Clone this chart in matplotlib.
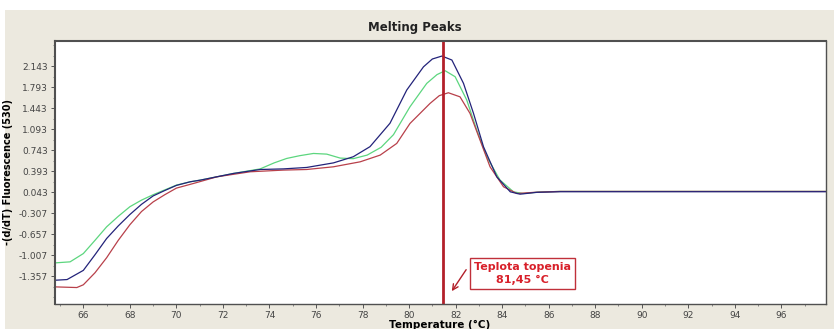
import numpy as np
import matplotlib
matplotlib.use("Agg")
import matplotlib.pyplot as plt
from matplotlib.patches import Rectangle
from matplotlib.ticker import AutoMinorLocator

# curves (temperature in C, -(d/dT) fluorescence)
temp_blue = [64.8, 65.3, 66.0, 66.5, 67.0, 67.5, 68.0, 68.5, 69.0, 69.5, 70.0, 70.59, 71.03, 72.45,
             73.6, 74.6, 75.6, 76.75, 77.6, 78.32, 79.18, 79.9, 80.62, 81.0, 81.41, 81.84, 82.34,
             82.77, 83.2, 83.77, 84.35, 84.77, 85.5, 86.5, 98.0]
blue = [-1.424, -1.413, -1.26, -1.0, -0.73, -0.52, -0.33, -0.16, -0.02, 0.07, 0.155, 0.215, 0.243, 0.354,
        0.42, 0.43, 0.454, 0.53, 0.632, 0.80, 1.19, 1.743, 2.13, 2.26, 2.309, 2.243, 1.854,
        1.354, 0.798, 0.298, 0.048, 0.009, 0.04, 0.05, 0.05]

temp_green = [64.8, 65.43, 66.0, 66.5, 67.0, 67.5, 68.0, 68.5, 69.0, 69.5, 70.0, 70.59, 71.03, 72.45,
              73.6, 74.2, 74.74, 75.3, 75.89, 76.46, 77.04, 77.6, 78.2, 78.8, 79.33, 80.04, 80.76,
              81.2, 81.55, 81.98, 82.48, 82.91, 83.34, 83.91, 84.49, 84.9, 85.6, 86.5, 98.0]
green = [-1.135, -1.118, -0.98, -0.76, -0.535, -0.36, -0.2, -0.09, 0.0, 0.08, 0.16, 0.215, 0.243, 0.354,
         0.43, 0.53, 0.604, 0.65, 0.687, 0.676, 0.61, 0.60, 0.66, 0.79, 1.0, 1.465, 1.854,
         2.0, 2.065, 1.965, 1.576, 1.076, 0.632, 0.243, 0.048, 0.02, 0.045, 0.055, 0.055]

temp_red = [64.8, 65.72, 66.0, 66.5, 67.0, 67.5, 68.0, 68.5, 69.0, 69.5, 70.0, 70.73, 71.74, 73.17,
            74.6, 75.6, 76.75, 77.9, 78.76, 79.47, 80.04, 80.9, 81.3, 81.69, 82.19, 82.62, 83.05,
            83.48, 84.06, 84.63, 85.4, 86.5, 98.0]
red = [-1.535, -1.546, -1.5, -1.3, -1.05, -0.76, -0.5, -0.28, -0.12, 0.0, 0.11, 0.187, 0.298, 0.382,
       0.41, 0.42, 0.465, 0.548, 0.66, 0.854, 1.187, 1.52, 1.65, 1.698, 1.63, 1.354, 0.91,
       0.465, 0.132, 0.02, 0.04, 0.055, 0.055]

x_ticks = [66, 68, 70, 72, 74, 76, 78, 80, 82, 84, 86, 88, 90, 92, 94, 96]
y_ticks = [-1.357, -1.007, -0.657, -0.307, 0.043, 0.393, 0.743, 1.093, 1.443, 1.793, 2.143]
melt_temp = 81.45

fig = plt.figure(figsize=(8.34, 3.29), dpi=100, facecolor="white")
# beige window background
fig.patches.append(Rectangle((5 / 834, 0), 1, (329 - 10) / 329, transform=fig.transFigure,
                             facecolor="#ece9df", edgecolor="none", zorder=-10))

ax = fig.add_axes([0.0659, 0.076, 0.9245, 0.7994])
ax.set_facecolor("white")

ax.plot(temp_green, green, color="#5cd67e", lw=0.9)
ax.plot(temp_red, red, color="#b8404a", lw=0.9)
ax.plot(temp_blue, blue, color="#23237a", lw=0.9)

ax.axvline(melt_temp, color="#b3202a", lw=2)

ax.set_xlim(64.78, 97.92)
ax.set_ylim(-1.82, 2.56)
ax.set_xticks(x_ticks)
ax.set_yticks(y_ticks)
ax.set_yticklabels([f"{v:.3f}" for v in y_ticks])
ax.xaxis.set_minor_locator(AutoMinorLocator(2))
ax.yaxis.set_minor_locator(AutoMinorLocator(2))
ax.tick_params(which="major", length=3, width=0.7, color="#555555", labelsize=6.5,
               labelcolor="#444444", pad=2)
ax.tick_params(which="minor", length=1.5, width=0.6, color="#777777")

for s in ax.spines.values():
    s.set_color("#505050")
    s.set_linewidth(1.0)
ax.spines["top"].set_linewidth(1.5)
ax.spines["left"].set_linewidth(1.5)

ax.set_ylabel("-(d/dT) Fluorescence (530)", fontsize=7, fontweight="bold", labelpad=4)
fig.text(440 / 834, 1 - 325 / 329, "Temperature (°C)", ha="center", va="center",
         fontsize=7.5, fontweight="bold")
fig.text(415 / 834, 1 - 28 / 329, "Melting Peaks", ha="center", va="center",
         fontsize=8.5, fontweight="bold", color="#222222")

ax.annotate("", xy=(81.77, -1.645), xytext=(82.52, -1.21),
            arrowprops=dict(arrowstyle="->", color="#b3202a", lw=1.0))
ax.text(84.87, -1.31, "Teplota topenia\n81,45 °C", ha="center", va="center",
        multialignment="center", fontsize=8, fontweight="bold", color="#d8202a",
        linespacing=1.4,
        bbox=dict(boxstyle="square,pad=0.35", facecolor="white", edgecolor="#c0303a", lw=1))

fig.savefig("out.png", dpi=100, facecolor=fig.get_facecolor())
